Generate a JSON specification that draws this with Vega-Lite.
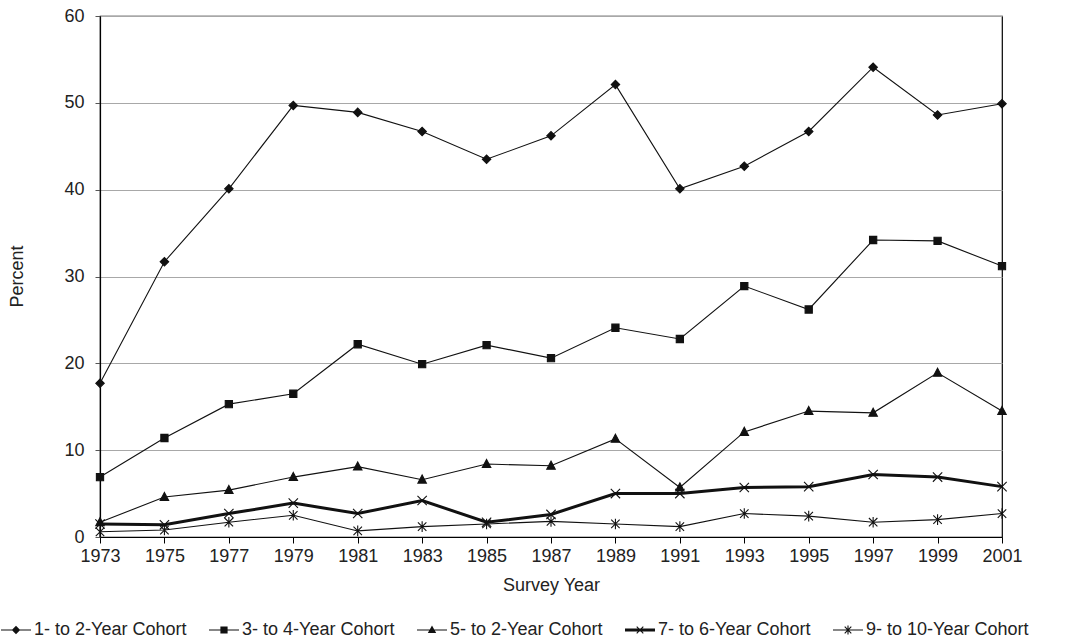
{
  "$schema": "https://vega.github.io/schema/vega-lite/v6.json",
  "width": 902,
  "height": 521,
  "autosize": "none",
  "padding": {"left": 100, "top": 16, "right": 63, "bottom": 106},
  "background": "white",
  "config": {
    "font": "Liberation Sans",
    "view": {"stroke": "black", "strokeWidth": 1.2},
    "axis": {"labelFont": "Liberation Sans", "titleFont": "Liberation Sans", "labelColor": "#222", "titleColor": "#222", "titleFontWeight": "normal", "labelFontSize": 18, "titleFontSize": 18}
  },
  "data": {"values": [
    {"year": 1973, "cohort": "1- to 2-Year Cohort", "pct": 17.7},
    {"year": 1975, "cohort": "1- to 2-Year Cohort", "pct": 31.7},
    {"year": 1977, "cohort": "1- to 2-Year Cohort", "pct": 40.1},
    {"year": 1979, "cohort": "1- to 2-Year Cohort", "pct": 49.7},
    {"year": 1981, "cohort": "1- to 2-Year Cohort", "pct": 48.9},
    {"year": 1983, "cohort": "1- to 2-Year Cohort", "pct": 46.7},
    {"year": 1985, "cohort": "1- to 2-Year Cohort", "pct": 43.5},
    {"year": 1987, "cohort": "1- to 2-Year Cohort", "pct": 46.2},
    {"year": 1989, "cohort": "1- to 2-Year Cohort", "pct": 52.1},
    {"year": 1991, "cohort": "1- to 2-Year Cohort", "pct": 40.1},
    {"year": 1993, "cohort": "1- to 2-Year Cohort", "pct": 42.7},
    {"year": 1995, "cohort": "1- to 2-Year Cohort", "pct": 46.7},
    {"year": 1997, "cohort": "1- to 2-Year Cohort", "pct": 54.1},
    {"year": 1999, "cohort": "1- to 2-Year Cohort", "pct": 48.6},
    {"year": 2001, "cohort": "1- to 2-Year Cohort", "pct": 49.9},
    {"year": 1973, "cohort": "3- to 4-Year Cohort", "pct": 6.9},
    {"year": 1975, "cohort": "3- to 4-Year Cohort", "pct": 11.4},
    {"year": 1977, "cohort": "3- to 4-Year Cohort", "pct": 15.3},
    {"year": 1979, "cohort": "3- to 4-Year Cohort", "pct": 16.5},
    {"year": 1981, "cohort": "3- to 4-Year Cohort", "pct": 22.2},
    {"year": 1983, "cohort": "3- to 4-Year Cohort", "pct": 19.9},
    {"year": 1985, "cohort": "3- to 4-Year Cohort", "pct": 22.1},
    {"year": 1987, "cohort": "3- to 4-Year Cohort", "pct": 20.6},
    {"year": 1989, "cohort": "3- to 4-Year Cohort", "pct": 24.1},
    {"year": 1991, "cohort": "3- to 4-Year Cohort", "pct": 22.8},
    {"year": 1993, "cohort": "3- to 4-Year Cohort", "pct": 28.9},
    {"year": 1995, "cohort": "3- to 4-Year Cohort", "pct": 26.2},
    {"year": 1997, "cohort": "3- to 4-Year Cohort", "pct": 34.2},
    {"year": 1999, "cohort": "3- to 4-Year Cohort", "pct": 34.1},
    {"year": 2001, "cohort": "3- to 4-Year Cohort", "pct": 31.2},
    {"year": 1973, "cohort": "5- to 2-Year Cohort", "pct": 1.7},
    {"year": 1975, "cohort": "5- to 2-Year Cohort", "pct": 4.6},
    {"year": 1977, "cohort": "5- to 2-Year Cohort", "pct": 5.4},
    {"year": 1979, "cohort": "5- to 2-Year Cohort", "pct": 6.9},
    {"year": 1981, "cohort": "5- to 2-Year Cohort", "pct": 8.1},
    {"year": 1983, "cohort": "5- to 2-Year Cohort", "pct": 6.6},
    {"year": 1985, "cohort": "5- to 2-Year Cohort", "pct": 8.4},
    {"year": 1987, "cohort": "5- to 2-Year Cohort", "pct": 8.2},
    {"year": 1989, "cohort": "5- to 2-Year Cohort", "pct": 11.3},
    {"year": 1991, "cohort": "5- to 2-Year Cohort", "pct": 5.7},
    {"year": 1993, "cohort": "5- to 2-Year Cohort", "pct": 12.1},
    {"year": 1995, "cohort": "5- to 2-Year Cohort", "pct": 14.5},
    {"year": 1997, "cohort": "5- to 2-Year Cohort", "pct": 14.3},
    {"year": 1999, "cohort": "5- to 2-Year Cohort", "pct": 18.9},
    {"year": 2001, "cohort": "5- to 2-Year Cohort", "pct": 14.5},
    {"year": 1973, "cohort": "7- to 6-Year Cohort", "pct": 1.5},
    {"year": 1975, "cohort": "7- to 6-Year Cohort", "pct": 1.4},
    {"year": 1977, "cohort": "7- to 6-Year Cohort", "pct": 2.7},
    {"year": 1979, "cohort": "7- to 6-Year Cohort", "pct": 3.9},
    {"year": 1981, "cohort": "7- to 6-Year Cohort", "pct": 2.7},
    {"year": 1983, "cohort": "7- to 6-Year Cohort", "pct": 4.2},
    {"year": 1985, "cohort": "7- to 6-Year Cohort", "pct": 1.7},
    {"year": 1987, "cohort": "7- to 6-Year Cohort", "pct": 2.6},
    {"year": 1989, "cohort": "7- to 6-Year Cohort", "pct": 5.0},
    {"year": 1991, "cohort": "7- to 6-Year Cohort", "pct": 5.0},
    {"year": 1993, "cohort": "7- to 6-Year Cohort", "pct": 5.7},
    {"year": 1995, "cohort": "7- to 6-Year Cohort", "pct": 5.8},
    {"year": 1997, "cohort": "7- to 6-Year Cohort", "pct": 7.2},
    {"year": 1999, "cohort": "7- to 6-Year Cohort", "pct": 6.9},
    {"year": 2001, "cohort": "7- to 6-Year Cohort", "pct": 5.8},
    {"year": 1973, "cohort": "9- to 10-Year Cohort", "pct": 0.6},
    {"year": 1975, "cohort": "9- to 10-Year Cohort", "pct": 0.8},
    {"year": 1977, "cohort": "9- to 10-Year Cohort", "pct": 1.7},
    {"year": 1979, "cohort": "9- to 10-Year Cohort", "pct": 2.5},
    {"year": 1981, "cohort": "9- to 10-Year Cohort", "pct": 0.7},
    {"year": 1983, "cohort": "9- to 10-Year Cohort", "pct": 1.2},
    {"year": 1985, "cohort": "9- to 10-Year Cohort", "pct": 1.5},
    {"year": 1987, "cohort": "9- to 10-Year Cohort", "pct": 1.8},
    {"year": 1989, "cohort": "9- to 10-Year Cohort", "pct": 1.5},
    {"year": 1991, "cohort": "9- to 10-Year Cohort", "pct": 1.2},
    {"year": 1993, "cohort": "9- to 10-Year Cohort", "pct": 2.7},
    {"year": 1995, "cohort": "9- to 10-Year Cohort", "pct": 2.4},
    {"year": 1997, "cohort": "9- to 10-Year Cohort", "pct": 1.7},
    {"year": 1999, "cohort": "9- to 10-Year Cohort", "pct": 2.0},
    {"year": 2001, "cohort": "9- to 10-Year Cohort", "pct": 2.7}
  ]},
  "encoding": {
    "x": {"field": "year", "type": "quantitative",
      "scale": {"domain": [1973, 2001], "nice": false, "zero": false},
      "axis": {"title": "Survey Year", "values": [1973,1975,1977,1979,1981,1983,1985,1987,1989,1991,1993,1995,1997,1999,2001], "format": "d", "grid": false, "domainColor": "black", "domainWidth": 1.2, "tickColor": "black", "tickSize": 6, "labelPadding": 4, "titlePadding": 11, "labelFlush": false}},
    "y": {"field": "pct", "type": "quantitative",
      "scale": {"domain": [0, 60], "nice": false},
      "axis": {"title": "Percent", "values": [0,10,20,30,40,50,60], "grid": true, "gridColor": "#a8a8a8", "gridWidth": 1, "domainColor": "black", "domainWidth": 1.2, "tickColor": "#555", "tickSize": 5, "labelPadding": 11, "titleX": -83, "titleY": 260, "titleBaseline": "middle", "titleAlign": "center"}}
  },
  "layer": [
    {
      "mark": {"type": "line", "color": "#111"},
      "encoding": {
        "detail": {"field": "cohort"},
        "strokeWidth": {"condition": {"test": "datum.cohort === '7- to 6-Year Cohort'", "value": 3}, "value": 1.1}
      }
    },
    {
      "mark": {"type": "point", "filled": true, "fill": "#111", "stroke": "#111", "strokeWidth": 1.1, "size": 72, "opacity": 1},
      "encoding": {
        "shape": {"field": "cohort", "type": "nominal",
          "scale": {"domain": ["1- to 2-Year Cohort", "3- to 4-Year Cohort", "5- to 2-Year Cohort", "7- to 6-Year Cohort", "9- to 10-Year Cohort"],
            "range": ["M-1,0L0,-1L1,0L0,1Z", "M-0.85,-0.85H0.85V0.85H-0.85Z", "M0,-1.1L1,0.8L-1,0.8Z", "M-1.1,-1.1L1.1,1.1M-1.1,1.1L1.1,-1.1", "M-1,-1L1,1M-1,1L1,-1M0,-1.25V1.25"]},
          "legend": null}
      }
    },
    {
      "transform": [{"filter": "datum.pct < -100"}],
      "mark": {"type": "point", "filled": true, "fill": "#111", "opacity": 1},
      "encoding": {
        "shape": {"field": "cohort", "type": "nominal",
          "scale": {"domain": ["1- to 2-Year Cohort", "3- to 4-Year Cohort", "5- to 2-Year Cohort", "7- to 6-Year Cohort", "9- to 10-Year Cohort"],
            "range": [
              "M-1,-0.037H1V0.037H-1ZM0,-0.28L0.28,0L0,0.28L-0.28,0Z",
              "M-1,-0.037H1V0.037H-1ZM-0.24,-0.24H0.24V0.24H-0.24Z",
              "M-1,-0.037H1V0.037H-1ZM0,-0.3L0.28,0.2L-0.28,0.2Z",
              "M-1,-0.093H1V0.093H-1ZM-0.194,-0.246L0.246,0.194L0.194,0.246L-0.246,-0.194ZM-0.246,0.194L0.194,-0.246L0.246,-0.194L-0.194,0.246Z",
              "M-1,-0.037H1V0.037H-1ZM-0.194,-0.246L0.246,0.194L0.194,0.246L-0.246,-0.194ZM-0.246,0.194L0.194,-0.246L0.246,-0.194L-0.194,0.246ZM-0.037,-0.3H0.037V0.3H-0.037Z"]},
          "legend": {"title": null, "orient": "none", "legendX": -99, "legendY": 599, "direction": "horizontal", "columns": 5, "gridAlign": "all",
            "symbolSize": 900, "labelOffset": 3, "columnPadding": 12, "labelLimit": 300, "labelFontSize": 18, "labelFont": "Liberation Sans", "labelColor": "#222", "symbolFillColor": "#111", "symbolStrokeColor": "transparent", "symbolStrokeWidth": 0, "symbolOpacity": 1}
        }
      }
    }
  ],
  "resolve": {"scale": {"shape": "independent"}}
}
